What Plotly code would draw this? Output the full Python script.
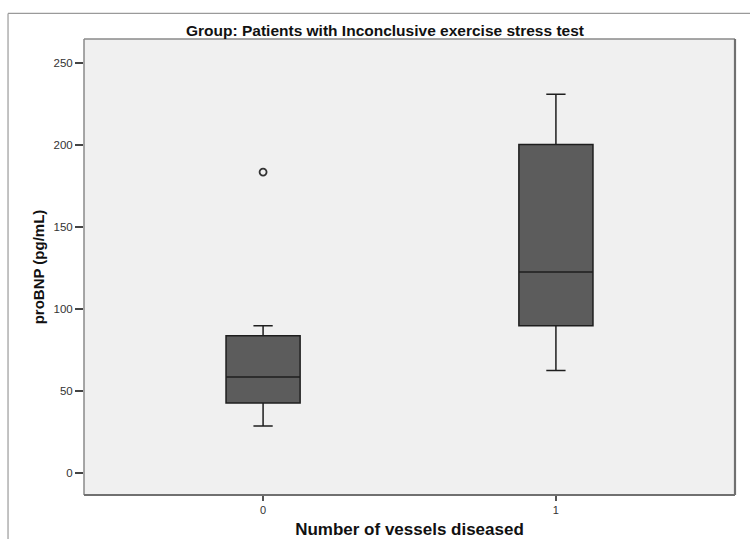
import plotly.graph_objects as go

# Number of vessels diseased (category) and box-plot summary of proBNP (pg/mL)
groups = [0, 1]
q1 = [42.6, 89.7]
medians = [58.5, 122.4]
q3 = [83.6, 200.1]
lower_whisker = [28.6, 62.5]
upper_whisker = [89.7, 230.8]

# Outlying observations
outlier_group = [0]
outlier_value = [183.3]

y_ticks = [0, 50, 100, 150, 200, 250]

FONT = "Arial, Liberation Sans, sans-serif"

fig = go.Figure()

fig.add_trace(go.Box(
    x=groups,
    q1=q1,
    median=medians,
    q3=q3,
    lowerfence=lower_whisker,
    upperfence=upper_whisker,
    boxpoints=False,
    width=0.253,
    whiskerwidth=0.26,
    fillcolor="#5c5c5c",
    line=dict(color="#1e1e1e", width=1.5),
    showlegend=False,
    hoverinfo="skip",
))

fig.add_trace(go.Scatter(
    x=outlier_group,
    y=outlier_value,
    mode="markers",
    marker=dict(symbol="circle-open", size=7, color="#333333",
                line=dict(width=1.8, color="#333333")),
    showlegend=False,
    hoverinfo="skip",
))

# Plot-area frame: light top/left edges, heavier right/bottom edges
frame = [
    dict(x0=0, x1=0, y0=0, y1=1, color="#8a8a8a", w=1.5),
    dict(x0=0, x1=1, y0=1, y1=1, color="#8a8a8a", w=1.5),
    dict(x0=1, x1=1, y0=0, y1=1, color="#707070", w=2.2),
    dict(x0=0, x1=1, y0=0, y1=0, color="#707070", w=2.2),
]
shapes = [
    dict(type="line", xref="paper", yref="paper", x0=s["x0"], x1=s["x1"],
         y0=s["y0"], y1=s["y1"], line=dict(color=s["color"], width=s["w"]),
         layer="above")
    for s in frame
]

# Outer chart border (left and top edges visible)
shapes += [
    dict(type="line", xref="paper", yref="paper", x0=-0.1167, x1=-0.1167,
         y0=-0.2, y1=1.056, line=dict(color="#9a9a9a", width=1.2)),
    dict(type="line", xref="paper", yref="paper", x0=-0.1167, x1=1.1,
         y0=1.056, y1=1.056, line=dict(color="#9a9a9a", width=1.2)),
]

fig.update_layout(
    width=750,
    height=539,
    margin=dict(l=84, r=15, t=39, b=44),
    paper_bgcolor="white",
    plot_bgcolor="#f0f0f0",
    font=dict(family=FONT, color="#333333"),
    shapes=shapes,
    xaxis=dict(
        range=[-0.6115, 1.6115],
        automargin=False,
        tickmode="array",
        tickvals=groups,
        ticktext=[str(g) for g in groups],
        ticks="outside",
        ticklen=5,
        tickwidth=1.5,
        tickcolor="#555555",
        tickfont=dict(size=11, color="#333333", family=FONT),
        showgrid=False,
        zeroline=False,
        showline=False,
        title=dict(text="<b>Number of vessels diseased</b>",
                   font=dict(size=17, color="#111111", family=FONT),
                   standoff=10),
    ),
    yaxis=dict(
        range=[-13.4, 264.4],
        automargin=False,
        tickmode="array",
        tickvals=y_ticks,
        ticks="outside",
        ticklen=8,
        tickwidth=1.5,
        tickcolor="#444444",
        tickfont=dict(size=11.5, color="#333333", family=FONT),
        showgrid=False,
        zeroline=False,
        showline=False,
        title=dict(text="<b>proBNP (pg/mL)</b>",
                   font=dict(size=15, color="#111111", family=FONT),
                   standoff=5),
    ),
    annotations=[
        dict(text="<b>Group: Patients with Inconclusive exercise stress test</b>",
             xref="paper", yref="paper", x=(385 - 84) / 651,
             y=(495 - 30) / 456,
             xanchor="center", yanchor="middle", showarrow=False,
             font=dict(size=15.5, color="#111111", family=FONT)),
    ],
)

fig.write_html("out.html")
